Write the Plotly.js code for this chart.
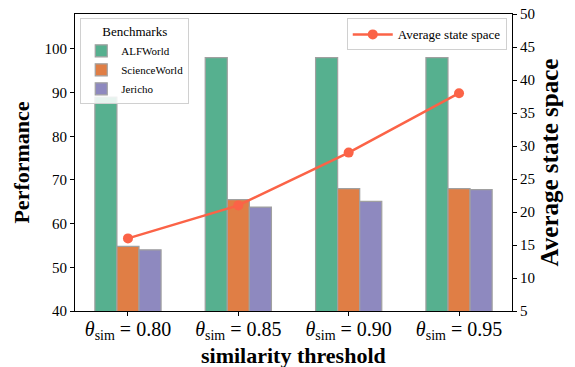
<!DOCTYPE html>
<html><head><meta charset="utf-8">
<script src="https://cdn.plot.ly/plotly-3.0.1.min.js"></script>
<style>html,body{margin:0;padding:0;background:#fff}#c{width:575px;height:367px}</style>
</head><body><div id="c"></div>
<script>
const categories = ["0.80", "0.85", "0.90", "0.95"];
const tickLabels = ["<i>θ</i><sub>sim</sub> = 0.80", "<i>θ</i><sub>sim</sub> = 0.85", "<i>θ</i><sub>sim</sub> = 0.90", "<i>θ</i><sub>sim</sub> = 0.95"];
const alfworld = [89, 98, 98, 98];
const scienceworld = [54.8, 65.5, 68, 68];
const jericho = [54, 63.8, 65.1, 67.8];
const avgStateSpace = [16, 21, 29, 38];

const F = "Liberation Serif";
const edge = {color: "#a0a0a0", width: 1.2};
const traces = [
  {type: "bar", name: "ALFWorld", x: categories, y: alfworld, marker: {color: "#56b08f", line: edge}, legend: "legend"},
  {type: "bar", name: "ScienceWorld", x: categories, y: scienceworld, marker: {color: "#e07e45", line: edge}, legend: "legend"},
  {type: "bar", name: "Jericho", x: categories, y: jericho, marker: {color: "#8e89bf", line: edge}, legend: "legend"},
  {type: "scatter", mode: "lines+markers", name: "Average state space", x: categories, y: avgStateSpace, yaxis: "y2",
   line: {color: "#fb6347", width: 2.5}, marker: {color: "#fb6347", size: 10}, legend: "legend2"}
];
const layout = {
  width: 575, height: 367,
  margin: {l: 75, r: 63, t: 14, b: 56},
  paper_bgcolor: "#fff", plot_bgcolor: "#fff",
  font: {family: F, color: "#000"},
  barmode: "group", bargap: 0.4, bargroupgap: 0,
  xaxis: {type: "category", range: [-0.48, 3.48], tickvals: categories, ticktext: tickLabels,
    tickfont: {size: 20, family: F}, ticks: "outside", ticklen: 4, tickcolor: "#000", ticklabelstandoff: -4,
    showline: true, linecolor: "#000", linewidth: 1, mirror: true, showgrid: false, zeroline: false, automargin: false},
  yaxis: {range: [40, 108], dtick: 10, tick0: 40, tickfont: {size: 15, family: F},
    ticks: "outside", ticklen: 4, tickcolor: "#000", showline: true, linecolor: "#000", linewidth: 1,
    showgrid: false, zeroline: false,
    title: {text: "<b>Performance</b>", font: {size: 22, family: F}, standoff: 8}},
  yaxis2: {overlaying: "y", side: "right", range: [5, 50], dtick: 5, tick0: 5, tickfont: {size: 15, family: F},
    ticks: "outside", ticklen: 4, tickcolor: "#000", showline: true, linecolor: "#000", linewidth: 1,
    showgrid: false, zeroline: false,
    title: {text: "<b>Average state space</b>", font: {size: 25, family: F}, standoff: 6}},
  annotations: [{text: "<b>similarity threshold</b>", xref: "paper", yref: "paper", x: 0.5, y: -0.1515,
    xanchor: "center", yanchor: "middle", showarrow: false, font: {size: 22, family: F}}],
  legend: {x: 0.012, y: 0.985, xanchor: "left", yanchor: "top", bgcolor: "rgba(255,255,255,0.85)",
    bordercolor: "#d0d0d0", borderwidth: 1, font: {size: 11, family: F}, tracegroupgap: 0,
    title: {text: "Benchmarks", font: {size: 13, family: F}, side: "top center"}, itemwidth: 30},
  legend2: {x: 0.988, y: 0.985, xanchor: "right", yanchor: "top", bgcolor: "rgba(255,255,255,0.85)",
    bordercolor: "#d0d0d0", borderwidth: 1, font: {size: 13, family: F}, itemwidth: 40},
  showlegend: true
};
Plotly.newPlot("c", traces, layout, {displayModeBar: false, staticPlot: true});
</script></body></html>
